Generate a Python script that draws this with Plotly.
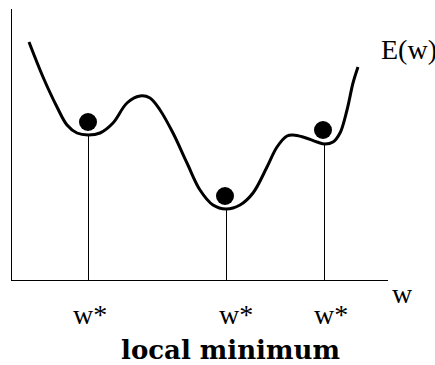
import plotly.graph_objects as go

# Error surface E(w)
w_curve = [17, 31, 45, 55, 65, 76, 88, 101, 115, 128, 138, 148, 161, 175, 188, 201, 214,
           228, 241, 255, 265, 275, 281, 291, 305, 313, 321, 328, 335, 341, 346]
E_curve = [238, 203, 173, 155, 147, 145, 147, 157, 177, 184, 182, 170, 147, 117, 90, 75, 71,
           75, 87, 113, 133, 144, 145, 143, 138, 136, 138, 147, 170, 197, 213]

# local minima (vertical drop lines)
min_w = [76.5, 214.5, 312.5]
min_E = [145, 71, 136]

# balls resting in minima
ball_w = [76, 213, 311]
ball_E = [158, 84, 150]

min_labels = ["w*", "w*", "w*"]
curve_label = "E(w)"
x_label = "w"
caption = "local minimum"

W, H = 435, 365
X0, X1 = 12, 388   # plot area in pixels
Y0, Y1 = 9, 280

label_left = [71, 217, 312]   # pixel positions of the w* labels

fig = go.Figure()

for xv, yv in zip(min_w, min_E):
    fig.add_trace(go.Scatter(x=[xv, xv], y=[0, yv], mode="lines",
                             line=dict(color="black", width=1), showlegend=False,
                             hoverinfo="skip"))

fig.add_trace(go.Scatter(x=w_curve, y=E_curve, mode="lines",
                         line=dict(color="black", width=3, shape="spline", smoothing=1.0),
                         showlegend=False))

fig.add_trace(go.Scatter(x=ball_w, y=ball_E, mode="markers",
                         marker=dict(color="black", size=18), showlegend=False))

serif = "Liberation Serif"
for lx, t in zip(label_left, min_labels):
    fig.add_annotation(x=lx / W, y=1 - 314.5 / H, xref="paper", yref="paper",
                       text=t, showarrow=False, xanchor="left", yanchor="middle",
                       font=dict(family=serif, size=28, color="black"))

fig.add_annotation(x=379 / W, y=1 - 49.5 / H, xref="paper", yref="paper", text=curve_label,
                   showarrow=False, xanchor="left", yanchor="middle",
                   font=dict(family=serif, size=28, color="black"))
fig.add_annotation(x=402 / W, y=1 - 293.5 / H, xref="paper", yref="paper", text=x_label,
                   showarrow=False, xanchor="center", yanchor="middle",
                   font=dict(family=serif, size=28, color="black"))
fig.add_annotation(x=230 / W, y=1 - 350 / H, xref="paper", yref="paper",
                   text="<b>" + caption + "</b>", showarrow=False,
                   xanchor="center", yanchor="middle",
                   font=dict(family="DejaVu Serif", size=26, color="black"))

fig.update_layout(
    width=W, height=H, margin=dict(l=0, r=0, t=0, b=0),
    paper_bgcolor="white", plot_bgcolor="white",
    xaxis=dict(domain=[X0 / W, X1 / W], range=[0, X1 - X0], showline=True, linecolor="black",
               linewidth=1, showgrid=False, zeroline=False, showticklabels=False, ticks=""),
    yaxis=dict(domain=[(H - Y1) / H, (H - Y0) / H], range=[0, Y1 - Y0], showline=True,
               linecolor="black", linewidth=1, showgrid=False, zeroline=False,
               showticklabels=False, ticks=""),
)

fig.write_html("out.html", config={"displayModeBar": False},
               post_script="document.body.style.margin='0';")
